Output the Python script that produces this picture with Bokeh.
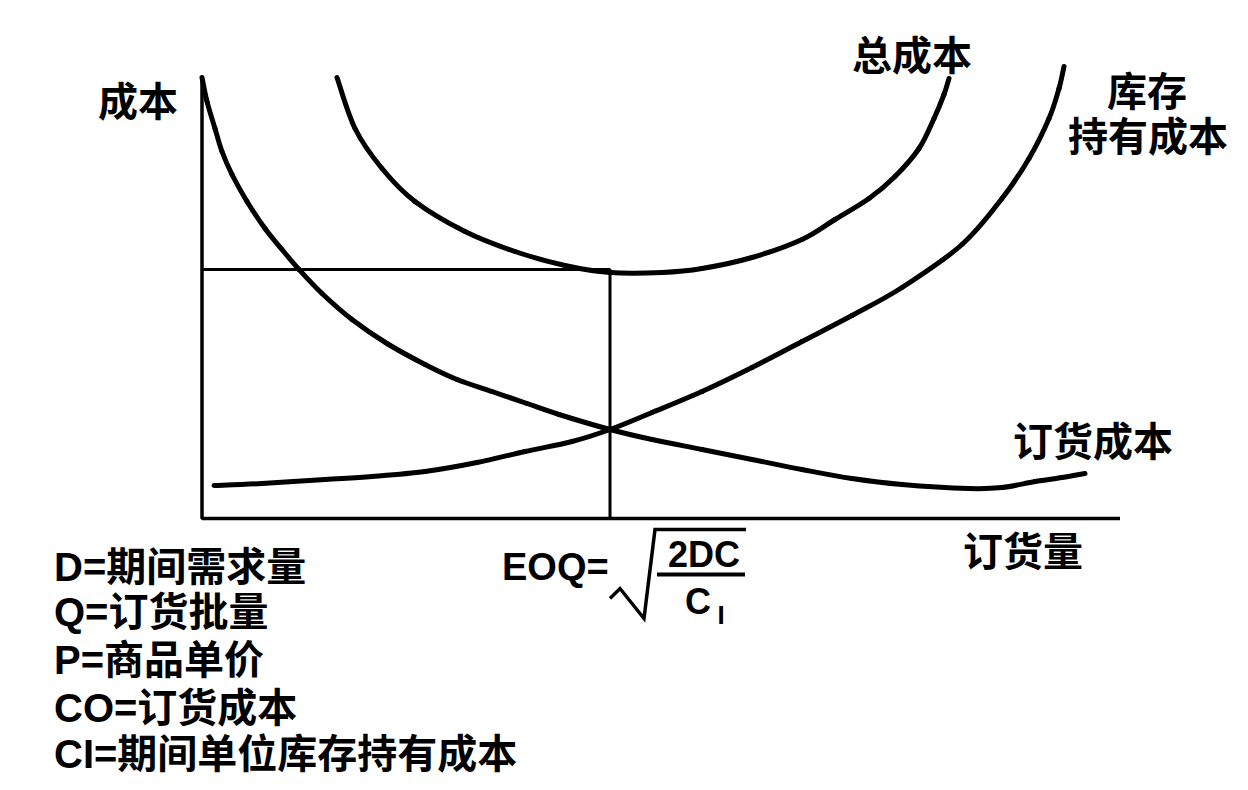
from bokeh.plotting import figure
from bokeh.models import Range1d, ColumnDataSource
from bokeh.core.properties import value
from bokeh.embed import file_html
from bokeh.resources import INLINE

# ---- data (order quantity Q, cost C; arbitrary units) ----
order_q = [0, 0.5, 1.3, 2.0, 3.0, 4.5, 6.3, 8.0, 9.7, 12.0, 15.0, 18.5, 22.3, 25.5, 29.0,
           32.5, 35.7, 40.8, 45.0, 50.0, 55.0, 60.0, 65.0, 70.0, 76.7, 80.0, 83.3, 86.0, 88.3]
order_cost = [44.1, 41.7, 39.0, 36.7, 34.4, 31.7, 29.0, 26.9, 24.9, 22.5, 19.9, 17.5, 15.4, 13.9, 12.7,
              11.5, 10.4, 8.9, 7.9, 6.9, 5.9, 4.9, 4.0, 3.4, 3.0, 3.1, 3.7, 4.1, 4.5]

hold_q = [1.2, 6.0, 12.3, 17.0, 22.3, 27.5, 32.3, 37.0, 40.8, 45.0, 50.0, 55.0, 60.0, 65.0,
          70.0, 76.0, 80.0, 82.7, 84.7, 85.7, 86.2]
hold_cost = [3.3, 3.5, 3.9, 4.2, 4.7, 5.6, 6.7, 7.7, 8.9, 10.6, 12.7, 15.1, 17.7, 20.3,
             23.1, 27.4, 32.0, 36.0, 40.0, 43.0, 45.2]

total_q = [13.5, 15.3, 18.0, 21.3, 26.3, 31.3, 36.3, 40.8, 46.0, 50.0, 55.0, 60.0, 63.3, 66.7,
           69.3, 71.7, 73.2, 74.2, 74.7]
total_cost = [44.1, 39.0, 35.0, 31.7, 28.7, 26.7, 25.3, 24.6, 24.6, 25.0, 26.1, 27.9, 29.9, 32.0,
              34.2, 37.0, 40.0, 42.4, 44.0]

eoq_q = 40.8
eoq_cost = 24.9
axis_x_max = 91.8
axis_y_max = 44.2

legend_lines = ["D=期间需求量", "Q=订货批量", "P=商品单价", "CO=订货成本", "CI=期间单位库存持有成本"]

FONT = value("Liberation Sans, Noto Sans CJK SC")

p = figure(width=1232, height=774, output_backend="svg", toolbar_location=None,
           x_range=Range1d(-20.15, 103.05), y_range=Range1d(-25.6, 51.8),
           min_border=0, min_border_left=0, min_border_right=0,
           min_border_top=0, min_border_bottom=0)
p.axis.visible = False
p.grid.visible = False
p.outline_line_color = None
p.background_fill_color = "white"
p.border_fill_color = "white"

# axes
p.line([0, 0, axis_x_max], [axis_y_max, 0, 0], line_color="black", line_width=3.5)
# EOQ reference lines
p.line([0, eoq_q, eoq_q], [eoq_cost, eoq_cost, 0], line_color="black", line_width=3)


def smooth_curve(xs, ys):
    """Draw a smooth curve through the read points (Catmull-Rom as cubic Beziers)."""
    n = len(xs)
    d = dict(x0=[], y0=[], x1=[], y1=[], cx0=[], cy0=[], cx1=[], cy1=[])
    for i in range(n - 1):
        xa, ya = xs[max(i - 1, 0)], ys[max(i - 1, 0)]
        xb, yb = xs[i], ys[i]
        xc, yc = xs[i + 1], ys[i + 1]
        xd, yd = xs[min(i + 2, n - 1)], ys[min(i + 2, n - 1)]
        d["x0"].append(xb); d["y0"].append(yb)
        d["x1"].append(xc); d["y1"].append(yc)
        d["cx0"].append(xb + (xc - xa) / 6); d["cy0"].append(yb + (yc - ya) / 6)
        d["cx1"].append(xc - (xd - xb) / 6); d["cy1"].append(yc - (yd - yb) / 6)
    p.bezier(x0="x0", y0="y0", x1="x1", y1="y1", cx0="cx0", cy0="cy0", cx1="cx1", cy1="cy1",
             source=ColumnDataSource(d), line_color="black", line_width=5, line_cap="round")


smooth_curve(order_q, order_cost)
smooth_curve(hold_q, hold_cost)
smooth_curve(total_q, total_cost)


def label(x, y, t, size="40px", align="center"):
    p.text(x=[x], y=[y], text=[t], text_font=FONT, text_font_size=size,
           text_font_style="bold", text_align=align, text_baseline="middle",
           text_color="black")


label(-6.4, 41.7, "成本")
label(71.0, 46.3, "总成本")
label(94.5, 42.7, "库存")
label(94.6, 38.2, "持有成本")
label(89.1, 7.7, "订货成本")
label(82.1, -3.3, "订货量")

legend_y = [-4.8, -9.3, -14.1, -18.9, -23.5]
for t, yy in zip(legend_lines, legend_y):
    label(-14.8, yy, t, align="left")

# EOQ formula
label(30.0, -4.8, "EOQ=", size="38px", align="left")
label(50.2, -3.6, "2DC", size="36px")
label(49.6, -8.3, "C", size="36px")
label(51.9, -9.6, "I", size="26px")
p.line([40.8, 41.8, 44.2, 45.3, 54.4], [-8.0, -7.0, -10.0, -1.1, -1.1],
       line_color="black", line_width=3.5, line_join="miter")
p.line([45.5, 54.3], [-5.6, -5.6], line_color="black", line_width=4)

open("out.html", "w").write(file_html(p, INLINE))
